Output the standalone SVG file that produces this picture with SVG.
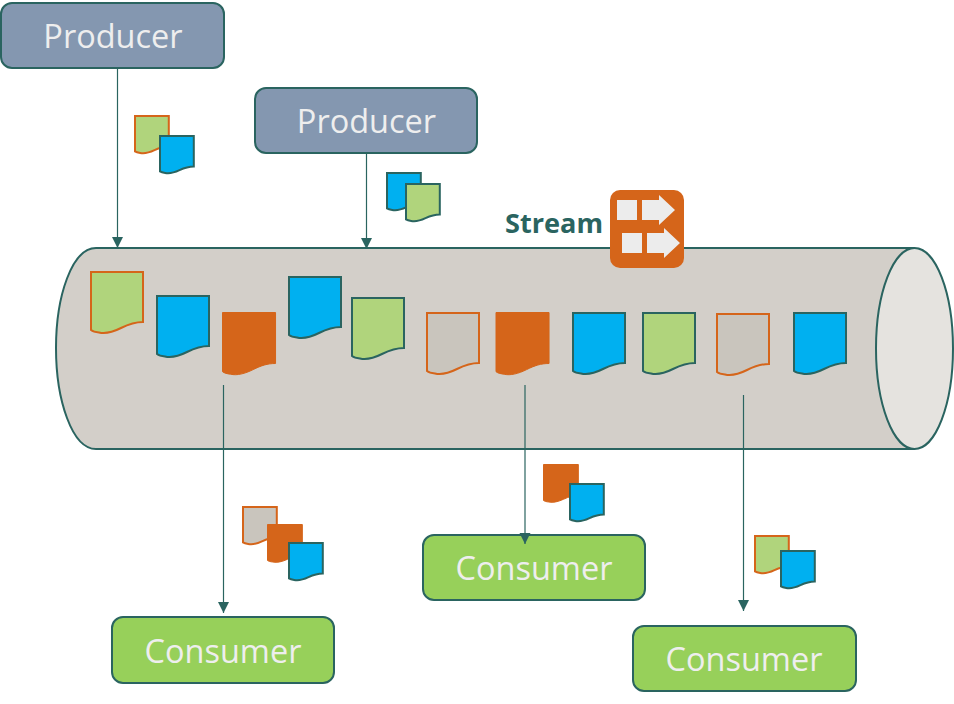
<svg xmlns="http://www.w3.org/2000/svg" width="954" height="704" viewBox="0 0 954 704">
<style>
.box{stroke:#2a6460;stroke-width:2}
.prod{fill:#8497b0}
.cons{fill:#97d05a}
.lbl{font-family:"Open Sans","Liberation Sans",sans-serif;font-size:32.500px;fill:#eeeeee;text-anchor:middle}
.conn{fill:none;stroke:#2a6460;stroke-width:1.2;marker-end:url(#arr)}
.ot{stroke:#d5651a;stroke-width:2}
.tl{stroke:#2a6460;stroke-width:2}
.blue{fill:#00b0f0}
.orange{fill:#d5651a;stroke:#d5651a;stroke-width:1}
.green{fill:#b0d47c}
.gray{fill:#c9c5bd}
.sq{fill:#ececec}
</style>
<defs>
<marker id="arr" markerUnits="userSpaceOnUse" markerWidth="12" markerHeight="12" refX="11" refY="5.500" orient="auto"><path d="M0 0L11 5.500L0 11Z" fill="#2a6460"/></marker>
<path id="doc" d="M0 0H52V50C44 50 38 52 30 56C22 60 14 62 8 60.500C4 60 2 59.500 0 58Z" vector-effect="non-scaling-stroke"/>
</defs>
<g id="pipe">
<path d="M914 248H96C72 248 56 296 56 348C56 400 72 449 96 449H914" fill="#d3cfc9" stroke="#2a6460" stroke-width="2"/>
<ellipse cx="914.500" cy="348.500" rx="38.500" ry="100.500" fill="#e5e3df" stroke="#2a6460" stroke-width="2"/>
</g>
<g id="producer-1"><rect class="box prod" x="1" y="3" width="223" height="65" rx="11"/><text class="lbl" x="113" y="48">Producer</text></g>
<g id="producer-2"><rect class="box prod" x="255" y="88" width="222" height="65" rx="11"/><text class="lbl" x="366.500" y="133">Producer</text></g>
<g id="consumer-1"><rect class="box cons" x="112" y="617" width="222" height="66" rx="11"/><text class="lbl" x="223" y="663">Consumer</text></g>
<g id="consumer-2"><rect class="box cons" x="423" y="535" width="222" height="65" rx="11"/><text class="lbl" x="534" y="580">Consumer</text></g>
<g id="consumer-3"><rect class="box cons" x="633" y="626" width="223" height="65" rx="11"/><text class="lbl" x="744" y="671">Consumer</text></g>
<g id="connectors">
<path class="conn" d="M117.500 68V248"/>
<path class="conn" d="M366.500 153V249"/>
<path class="conn" d="M223.500 385V613"/>
<path class="conn" d="M525 385V544"/>
<path class="conn" d="M743.500 395V611"/>
</g>
<g id="documents">
<use href="#doc" class="green ot" transform="translate(91 272)"/>
<use href="#doc" class="blue tl" transform="translate(157 296)"/>
<use href="#doc" class="orange" transform="translate(222.500 312.500) scale(1.02)"/>
<use href="#doc" class="blue tl" transform="translate(289 277)"/>
<use href="#doc" class="green tl" transform="translate(352 298)"/>
<use href="#doc" class="gray ot" transform="translate(427 313)"/>
<use href="#doc" class="orange" transform="translate(496 312.500) scale(1.02)"/>
<use href="#doc" class="blue tl" transform="translate(573 313)"/>
<use href="#doc" class="green tl" transform="translate(643 313)"/>
<use href="#doc" class="gray ot" transform="translate(717 314)"/>
<use href="#doc" class="blue tl" transform="translate(794 313)"/>
<use href="#doc" class="green ot" transform="translate(135 116) scale(.65 .61)"/>
<use href="#doc" class="blue tl" transform="translate(160 136) scale(.65 .61)"/>
<use href="#doc" class="blue tl" transform="translate(387 173) scale(.65 .61)"/>
<use href="#doc" class="green tl" transform="translate(406 184) scale(.65 .61)"/>
<use href="#doc" class="gray ot" transform="translate(243 507) scale(.65 .61)"/>
<use href="#doc" class="orange" transform="translate(267.500 524.500) scale(.67 .62)"/>
<use href="#doc" class="blue tl" transform="translate(289 543) scale(.65 .61)"/>
<use href="#doc" class="orange" transform="translate(543.500 464.500) scale(.67 .62)"/>
<use href="#doc" class="blue tl" transform="translate(570 484) scale(.65 .61)"/>
<use href="#doc" class="green ot" transform="translate(755 536) scale(.65 .61)"/>
<use href="#doc" class="blue tl" transform="translate(781 551) scale(.65 .61)"/>
</g>
<g id="stream">
<text x="505" y="233" font-family="Open Sans,Liberation Sans,sans-serif" font-size="26" font-weight="700" fill="#2a6460" textLength="98" lengthAdjust="spacingAndGlyphs">Stream</text>
<rect x="610" y="190" width="74" height="78" rx="10" fill="#d5651a"/>
<rect class="sq" x="617" y="200" width="20" height="20"/>
<path class="sq" d="M642 200H659V195L675 210L659 225V220H642Z"/>
<rect class="sq" x="622" y="233" width="20" height="20"/>
<path class="sq" d="M647 233H664V228L680 243L664 258V253H647Z"/>
</g>
</svg>
